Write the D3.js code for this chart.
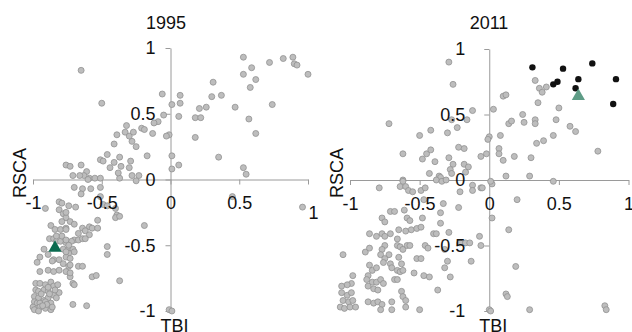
<!DOCTYPE html>
<html>
<head>
<meta charset="utf-8">
<script src="https://cdn.jsdelivr.net/npm/d3@7"></script>
<style>
    body { margin: 0; background: #fff; }
    svg { font-family: "Liberation Sans", Arial, Helvetica, sans-serif; }
    .axis-line path, .axis-line line { stroke: #9a9a9a; stroke-width: 1px; }
    .axis-text text { fill: #111; font-size: 18px; }
    .title { font-size: 18px; fill: #111; }
</style>
</head>
<body>
<svg width="632" height="332"></svg>
<script>
'use strict';

// [TBI, RSCA] pairs
let points1995 = [
    [-0.65,0.83],[-0.50,0.58],[-0.06,0.65],[0.01,0.57],[0.07,0.64],[0.07,0.58],[0.06,0.48],[-0.05,0.49],
    [-0.09,0.44],[-0.12,0.43],[-0.32,0.41],[-0.39,0.34],[-0.21,0.39],[-0.19,0.38],[-0.33,0.36],[-0.30,0.33],
    [-0.27,0.36],[-0.28,0.29],[-0.25,0.25],[-0.13,0.35],[-0.01,0.34],[-0.03,0.33],[-0.41,0.27],[-0.46,0.19],
    [-0.37,0.17],[-0.17,0.18],[0.01,0.18],[-0.51,0.15],[-0.49,0.14],[-0.41,0.13],[-0.29,0.14],[-0.30,0.09],
    [-0.76,0.11],[-0.73,0.10],[-0.65,0.11],[0.06,0.11],[0.01,0.08],[-0.44,0.09],[-0.61,0.06],[-0.63,0.03],
    [-0.71,0.03],[-0.59,0.01],[-0.55,0.01],[-0.37,0.01],[-0.28,0.03],[-0.23,0.03],[-0.38,0.05],[-0.25,-0.01],
    [-0.36,0.10],[-0.60,0.00],[-0.66,0.03],[-0.51,0.01],
    [0.18,0.47],[0.22,0.47],[0.21,0.54],[0.26,0.55],[0.30,0.63],[0.31,0.74],[0.37,0.64],[0.18,0.32],
    [0.35,0.17],[0.53,0.93],[0.53,0.80],[0.59,0.85],[0.62,0.76],[0.58,0.70],[0.47,0.55],[0.57,0.46],
    [0.62,0.35],[0.53,0.09],[0.55,0.04],[0.72,0.89],[0.82,0.92],[0.89,0.93],[0.90,0.88],[0.92,0.87],
    [1.00,0.80],[0.74,0.57],[0.45,-0.13],[0.96,-0.21],[-0.01,-0.99],[0.01,-1.00],
    [-0.70,-0.06],[-0.64,-0.07],[-0.58,-0.07],[-0.51,-0.06],[-0.65,-0.11],[-0.51,-0.13],[-0.49,-0.19],[-0.81,-0.17],
    [-0.79,-0.18],[-0.91,-0.22],[-0.74,-0.20],[-0.69,-0.21],[-0.81,-0.23],[-0.78,-0.26],[-0.76,-0.29],[-0.73,-0.32],
    [-0.79,-0.32],[-0.87,-0.35],[-0.84,-0.38],[-0.80,-0.38],[-0.76,-0.37],[-0.70,-0.34],[-0.64,-0.37],[-0.59,-0.36],
    [-0.57,-0.37],[-0.53,-0.31],[-0.67,-0.41],[-0.62,-0.39],[-0.59,-0.42],[-0.70,-0.46],[-0.67,-0.46],[-0.64,-0.45],
    [-0.53,-0.37],[-0.39,-0.27],[-0.40,-0.29],[-0.37,-0.28],[-0.40,-0.22],[-0.46,-0.20],[-0.19,-0.35],[-0.72,-0.47],
    [-0.88,-0.45],[-0.85,-0.45],[-0.83,-0.47],[-0.80,-0.47],[-0.76,-0.48],[-0.79,-0.43],[-0.92,-0.53],[-0.78,-0.53],
    [-0.74,-0.52],[-0.71,-0.53],[-0.74,-0.56],[-0.76,-0.59],[-0.73,-0.60],[-0.89,-0.57],[-0.46,-0.51],[-0.46,-0.57],
    [-0.95,-0.59],[-0.97,-0.63],[-0.85,-0.61],[-0.81,-0.61],[-0.78,-0.64],[-0.74,-0.66],[-0.67,-0.66],[-0.64,-0.66],
    [-0.95,-0.70],[-0.89,-0.69],[-0.85,-0.70],[-0.81,-0.69],[-0.73,-0.74],[-0.71,-0.79],[-0.57,-0.74],[-0.54,-0.73],
    [-0.37,-0.77],[-0.98,-0.79],[-0.95,-0.79],[-0.91,-0.80],[-0.87,-0.78],[-0.85,-0.81],[-0.82,-0.80],[-0.98,-0.84],
    [-0.96,-0.85],[-0.92,-0.84],[-0.89,-0.85],[-0.85,-0.88],[-0.81,-0.86],[-0.99,-0.89],[-0.96,-0.90],[-0.92,-0.92],
    [-0.89,-0.90],[-0.99,-0.93],[-0.97,-0.94],[-0.95,-0.94],[-0.91,-0.93],[-0.87,-0.94],[-1.00,-0.97],[-0.97,-0.98],
    [-0.95,-0.97],[-0.91,-0.98],[-0.87,-0.99],[-0.86,-0.97],[-0.99,-0.99],[-0.96,-1.00],[-0.71,-0.95],[-0.61,-0.96],
    [-0.70,-0.80],[-0.86,-0.62],[-0.73,-0.65],[-0.76,-0.70],[-0.73,-0.71],[-0.89,-0.82],[-0.84,-0.84],[-0.76,-0.46],
    [-0.62,-0.45],[-0.70,-0.55],[-0.76,-0.55],[-0.74,-0.50],[-0.83,-0.43],[-0.76,-0.38],[-0.76,-0.25],
    [-0.94,-0.87],[-0.90,-0.95],[-0.93,-0.96],[-0.88,-0.87],[-0.83,-0.90]
];

let points2011 = [
    [-0.29,0.90],[-0.26,0.73],[-0.72,0.43],[-0.12,0.53],[0.03,0.54],[-0.16,0.46],[-0.27,0.46],[-0.23,0.40],
    [-0.30,0.36],[-0.42,0.38],[-0.50,0.34],[-0.62,0.20],[-0.45,0.20],[-0.48,0.16],[-0.42,0.23],[-0.39,0.14],
    [-0.22,0.25],[-0.18,0.24],[-0.29,0.17],[-0.26,0.12],[-0.28,0.08],[-0.27,0.05],[-0.18,0.12],[-0.15,0.10],
    [-0.17,0.06],[-0.06,0.18],[-0.02,0.20],[0.00,0.33],[-0.01,0.31],[-0.43,0.05],[-0.36,0.03],[-0.35,0.02],
    [-0.62,0.00],
    [0.08,0.34],[0.07,0.24],[0.07,0.20],[0.10,0.15],[0.18,0.18],[0.30,0.17],[0.14,0.43],[0.16,0.45],
    [0.24,0.50],[0.25,0.44],[0.33,0.46],[0.33,0.43],[0.34,0.28],[0.39,0.30],[0.46,0.34],[0.48,0.46],
    [0.50,0.55],[0.35,0.59],[0.10,0.64],[0.12,0.65],[0.33,0.76],[0.36,0.70],[0.38,0.67],[0.41,0.71],
    [0.58,0.41],[0.62,0.37],[0.78,0.22],[0.12,0.03],[0.29,0.03],
    [-0.79,-0.06],[-0.62,-0.01],[-0.64,-0.05],[-0.60,-0.05],[-0.58,-0.08],[-0.55,-0.09],[-0.49,-0.08],[-0.46,-0.06],
    [-0.38,0.00],[-0.34,-0.01],[-0.31,0.00],[-0.47,-0.15],[-0.33,-0.18],[-0.22,-0.21],[-0.12,-0.04],[-0.06,-0.06],
    [-0.05,-0.06],[-0.12,-0.08],[-0.21,-0.09],[0.02,-0.03],[0.01,-0.01],[0.46,-0.01],[0.20,-0.15],[0.02,-0.29],
    [0.14,-0.38],[0.19,-0.66],[0.12,-0.87],[0.13,-0.89],[0.00,-0.99],[0.01,-1.00],[0.29,-0.99],[0.83,-0.96],
    [0.84,-0.99],[-0.35,-0.25],[-0.35,-0.33],[-0.71,-0.24],[-0.68,-0.24],[-0.61,-0.23],[-0.77,-0.29],[-0.75,-0.32],
    [-0.59,-0.29],[-0.57,-0.31],[-0.48,-0.29],[-0.86,-0.41],[-0.81,-0.43],[-0.77,-0.41],[-0.75,-0.43],[-0.71,-0.41],
    [-0.65,-0.38],[-0.60,-0.39],[-0.56,-0.38],[-0.52,-0.37],[-0.49,-0.36],[-0.40,-0.41],[-0.38,-0.41],[-0.29,-0.40],
    [-0.66,-0.45],[-0.75,-0.50],[-0.77,-0.53],[-0.78,-0.57],[-0.66,-0.50],[-0.64,-0.51],[-0.62,-0.53],[-0.59,-0.50],
    [-0.57,-0.50],[-0.46,-0.50],[-0.44,-0.52],[-0.89,-0.55],[-0.86,-0.52],[-1.05,-0.57],[-0.72,-0.57],[-0.75,-0.60],
    [-0.76,-0.63],[-0.65,-0.59],[-0.63,-0.64],[-0.52,-0.60],[-0.49,-0.60],[-0.32,-0.53],[-0.30,-0.62],[-0.21,-0.48],
    [-0.17,-0.48],[-0.14,-0.48],[-0.06,-0.50],[-0.07,-0.43],[-0.13,-0.62],[-0.86,-0.65],[-0.84,-0.69],[-0.81,-0.67],
    [-0.71,-0.64],[-0.70,-0.67],[-0.66,-0.69],[-0.64,-0.70],[-0.62,-0.69],[-0.68,-0.76],[-0.66,-0.76],[-0.54,-0.71],
    [-0.47,-0.73],[-0.43,-0.74],[-0.32,-0.67],[-0.28,-0.74],[-0.98,-0.73],[-0.99,-0.79],[-1.02,-0.80],[-1.06,-0.81],
    [-0.87,-0.73],[-0.88,-0.76],[-0.84,-0.78],[-0.81,-0.78],[-0.78,-0.76],[-0.76,-0.79],[-0.87,-0.81],[-0.83,-0.83],
    [-0.80,-0.84],[-0.63,-0.85],[-0.62,-0.89],[-0.60,-0.92],[-0.70,-0.93],[-0.37,-0.84],[-1.06,-0.86],[-1.02,-0.88],
    [-0.99,-0.86],[-1.05,-0.92],[-1.01,-0.93],[-0.98,-0.92],[-1.07,-0.97],[-1.04,-0.98],[-1.00,-0.97],[-0.96,-0.97],
    [-0.87,-0.93],[-0.83,-0.94],[-0.80,-0.93],[-0.77,-0.95],[-0.50,-0.99],[-0.78,-0.99],[-0.70,-0.99],[-0.60,-0.97]
];

let highlight2011 = [
    [0.31,0.86],[0.53,0.85],[0.74,0.89],[0.46,0.73],[0.49,0.75],[0.64,0.77],[0.62,0.70],[0.91,0.77],[0.89,0.58]
];

let marker1995 = [-0.84, -0.52],
    marker2011 = [0.64, 0.64];

let tickValues = [-1, -0.5, 0, 0.5, 1];
let years = ["1995", "2011"];

let svg = d3.select("svg");

let panels = [
    { title: years[0], points: points1995, black: [], marker: marker1995, markerColor: "#0b6b50",
      xRange: [33, 308], yRange: [311, 48], yLabelPad: 10, titleX: 166 },
    { title: years[1], points: points2011, black: highlight2011, marker: marker2011, markerColor: "#5e9c86",
      xRange: [350, 628.5], yRange: [311, 49], yLabelPad: 19, titleX: 489 }
];

panels.forEach(function(p, i) {
    let x = d3.scaleLinear().domain([-1, 1]).range(p.xRange),
        y = d3.scaleLinear().domain([-1, 1]).range(p.yRange);
    let x0 = x(0), y0 = y(0);

    let g = svg.append("g");

    // axis lines and ticks (under the points)
    g.append("g").attr("class", "axis-line")
        .attr("transform", "translate(0," + y0 + ")")
        .call(d3.axisBottom(x).tickValues(tickValues).tickSize(5).tickSizeOuter(0).tickFormat(""));
    g.append("g").attr("class", "axis-line")
        .attr("transform", "translate(" + x0 + ",0)")
        .call(d3.axisLeft(y).tickValues(tickValues).tickSize(5).tickSizeOuter(0).tickFormat(""));

    g.append("g").selectAll("circle")
        .data(p.points)
        .enter().append("circle")
        .attr("cx", function(d) { return x(d[0]); })
        .attr("cy", function(d) { return y(d[1]); })
        .attr("r", 3)
        .attr("fill", "#bdbdbd")
        .attr("stroke", "#929292")
        .attr("stroke-width", 0.8);

    g.append("g").selectAll("circle")
        .data(p.black)
        .enter().append("circle")
        .attr("cx", function(d) { return x(d[0]); })
        .attr("cy", function(d) { return y(d[1]); })
        .attr("r", 3.2)
        .attr("fill", "#111");

    g.append("path")
        .attr("d", d3.symbol().type(d3.symbolTriangle).size(75)())
        .attr("transform", "translate(" + x(p.marker[0]) + "," + y(p.marker[1]) + ")")
        .attr("fill", p.markerColor);

    // tick labels on top
    let xt = g.append("g").attr("class", "axis-text")
        .attr("transform", "translate(0," + y0 + ")")
        .call(d3.axisBottom(x).tickValues(tickValues).tickSize(0).tickPadding(17)
            .tickFormat(function(d) { return String(d); }));
    xt.select(".domain").remove();
    if (i === 0) {
        // the "1" label sits lower and to the right in the 1995 panel
        xt.selectAll(".tick").filter(function(d) { return d === 1; })
            .select("text").attr("transform", "translate(5,10)");
    }

    let yt = g.append("g").attr("class", "axis-text")
        .attr("transform", "translate(" + x0 + ",0)")
        .call(d3.axisLeft(y).tickValues(tickValues).tickSize(0).tickPadding(p.yLabelPad + 5)
            .tickFormat(function(d) { return String(d); }));
    yt.select(".domain").remove();

    g.append("text").attr("class", "title")
        .attr("x", p.titleX).attr("y", 29)
        .attr("text-anchor", "middle")
        .text(p.title);

    g.append("text").attr("class", "title")
        .attr("x", x0 + 4).attr("y", 332)
        .attr("text-anchor", "middle")
        .text("TBI");

    g.append("text").attr("class", "title")
        .attr("transform", "translate(" + (p.xRange[0] - 7) + ",173) rotate(-90)")
        .attr("text-anchor", "middle")
        .text("RSCA");
});
</script>
</body>
</html>
